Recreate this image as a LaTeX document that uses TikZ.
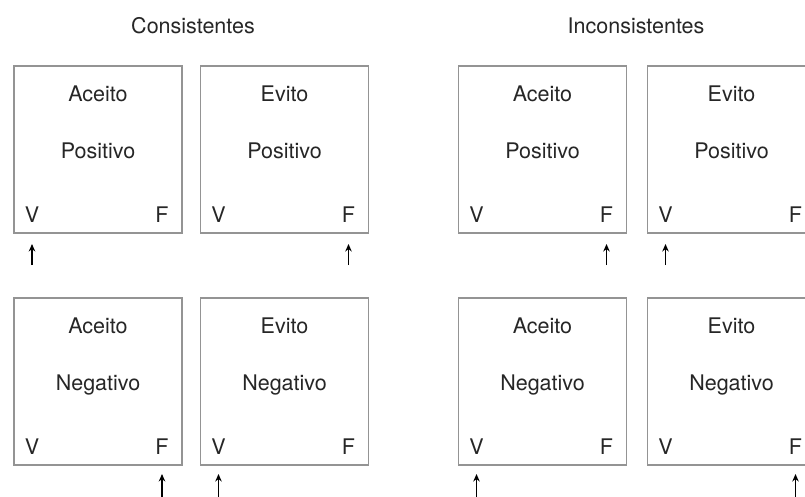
\documentclass[tikz,border=0pt]{standalone}
\usepackage{fontspec}
\setmainfont{TeX Gyre Heros}
\usetikzlibrary{arrows.meta}
\begin{document}
\begin{tikzpicture}[x=1pt,y=-1pt,
  box/.style={draw=black!42,line width=1.4pt,minimum width=168pt,minimum height=167pt,inner sep=0pt,outer sep=0pt},
  lbl/.style={anchor=base,inner sep=0pt,font=\fontsize{21.5}{26}\selectfont,text=black!85},
  ttl/.style={anchor=base,inner sep=0pt,font=\fontsize{21.5}{26}\selectfont,text=black!85},
  arr/.style={line width=1.4pt,-{Stealth[length=7.5pt,width=6.5pt]}}]
\useasboundingbox (0,0) rectangle (805,496);
\clip (0,0) rectangle (805,496);
% titles
\node[ttl] (t1) at (193,33) {Consistentes};
\node[ttl] (t2) at (636,33) {Inconsistentes};
% boxes
\node[box] (A1) at (98,149.5) {};
\node[box] (B1) at (284.5,149.5) {};
\node[box] (C1) at (542.5,149.5) {};
\node[box] (D1) at (731.5,149.5) {};
\node[box] (A2) at (98,381.5) {};
\node[box] (B2) at (284.5,381.5) {};
\node[box] (C2) at (542.5,381.5) {};
\node[box] (D2) at (731.5,381.5) {};
% texts
\foreach \b/\w/\p in {A1/Aceito/Positivo,B1/Evito/Positivo,C1/Aceito/Positivo,D1/Evito/Positivo,A2/Aceito/Negativo,B2/Evito/Negativo,C2/Aceito/Negativo,D2/Evito/Negativo}{
  \node[lbl] (\b w) at ([yshift=48.5pt]\b.center) {\w};
  \node[lbl] (\b p) at ([yshift=-8.5pt]\b.center) {\p};
  \node[lbl] (\b v) at ([xshift=18pt,yshift=11pt]\b.south west) {V};
  \node[lbl] (\b f) at ([xshift=-20pt,yshift=11pt]\b.south east) {F};
}
% arrows
\foreach \n in {A1v,B1f,C1f,D1v}{
  \coordinate (\n s) at ([yshift=-43pt]\n.base);
  \coordinate (\n e) at ([yshift=-22pt]\n.base);
  \draw[arr] (\n s) -- (\n e);
}
\foreach \n in {A2f,B2v,C2v,D2f}{
  \coordinate (\n s) at ([yshift=-46pt]\n.base);
  \coordinate (\n e) at ([yshift=-20pt]\n.base);
  \draw[arr] (\n s) -- (\n e);
}
\end{tikzpicture}
\end{document}
